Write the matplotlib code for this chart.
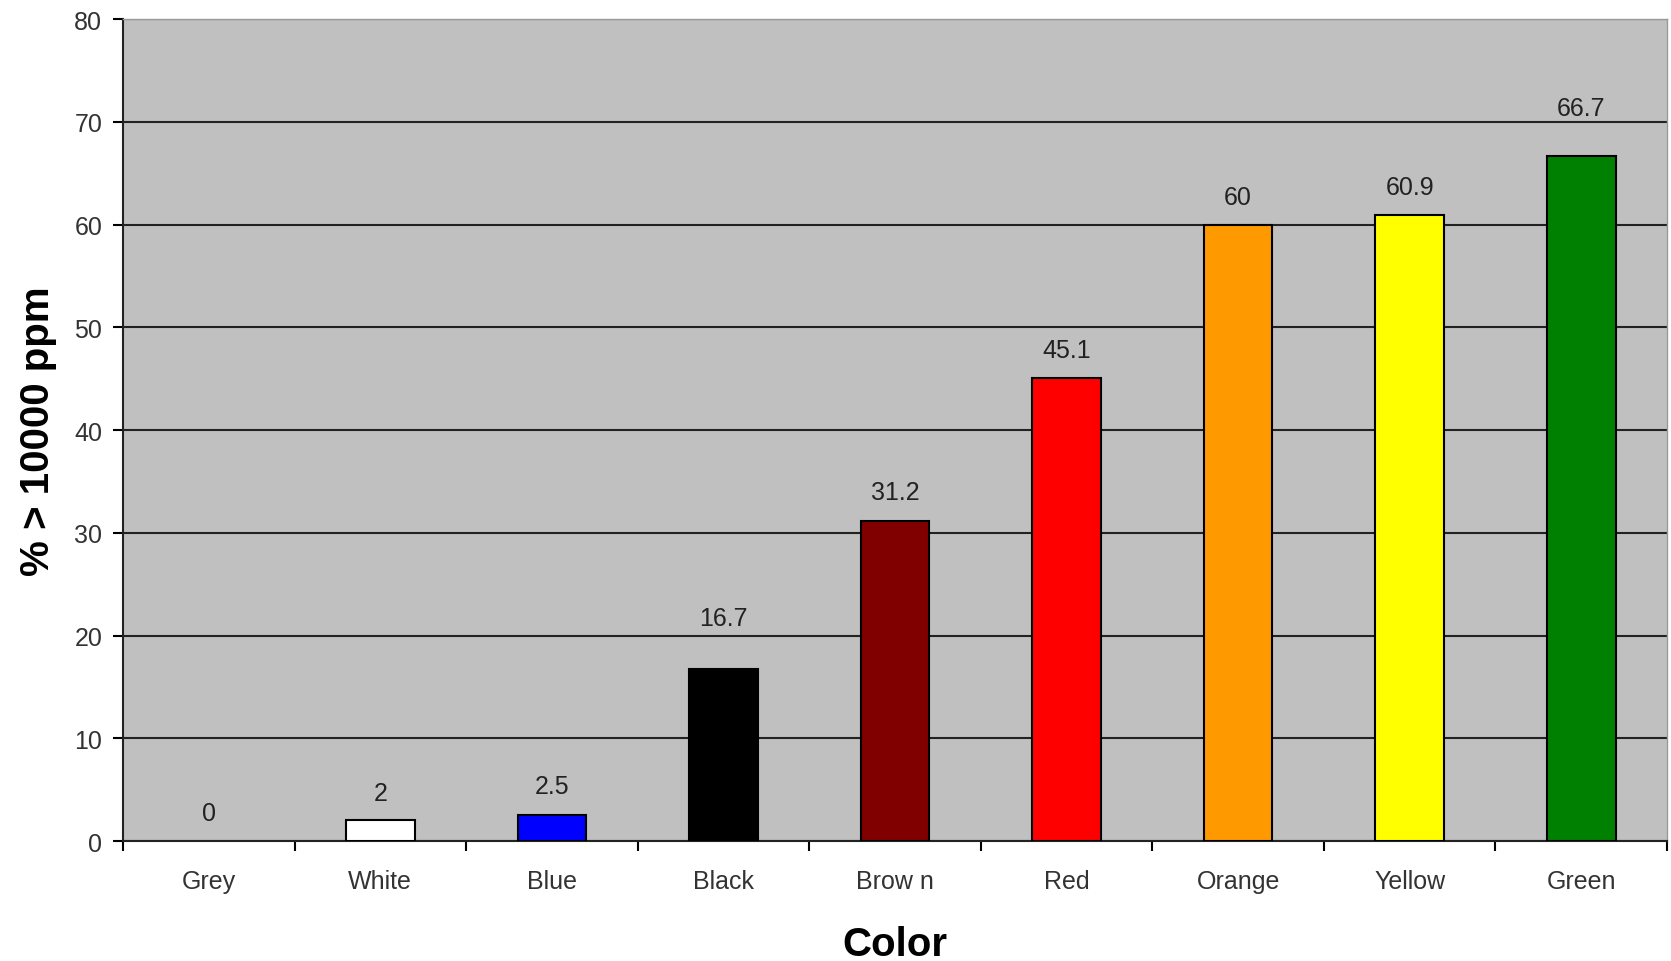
import matplotlib.pyplot as plt

colors = ["Grey", "White", "Blue", "Black", "Brow n", "Red", "Orange", "Yellow", "Green"]
values = [0, 2, 2.5, 16.7, 31.2, 45.1, 60, 60.9, 66.7]
labels = ["0", "2", "2.5", "16.7", "31.2", "45.1", "60", "60.9", "66.7"]
fills = ["#808080", "#FFFFFF", "#0000FF", "#000000", "#800000", "#FF0000", "#FF9900", "#FFFF00", "#008000"]
# label lift above bar (data units); Excel nudged two labels off the gridlines
lift = [2.7, 2.7, 2.9, 5.0, 2.8, 2.7, 2.7, 2.8, 4.7]

plt.rcParams["font.family"] = ["Liberation Sans", "DejaVu Sans"]

fig = plt.figure(figsize=(16.71, 9.62), dpi=100)
ax = fig.add_axes([0.0736, 0.1247, 0.9240, 0.8543])
ax.set_facecolor("#C0C0C0")

x = list(range(len(colors)))
lw = [0 if v == 0 else 1.5 for v in values]
ax.bar(x, values, width=0.40, color=fills, edgecolor="black", linewidth=lw, zorder=3)

for xi, v, t, d in zip(x, values, labels, lift):
    ax.text(xi, v + d, t, ha="center", va="center", fontsize=18, color="#222222")

ax.set_xlim(-0.5, len(colors) - 0.5)
ax.set_ylim(0, 80)
ax.set_yticks(range(0, 81, 10))
ax.set_xticks(x)
ax.set_xticklabels(colors)
ax.set_xticks([i - 0.5 for i in range(len(colors) + 1)], minor=True)
ax.tick_params(axis="x", which="major", length=0, pad=20, labelsize=18, labelcolor="#333333")
ax.tick_params(axis="x", which="minor", length=7, width=1.5, direction="out")
ax.tick_params(axis="y", length=7, width=1.5, labelsize=18, labelcolor="#333333", pad=8)

ax.grid(axis="y", color="#222222", linewidth=1.5, zorder=1)
ax.set_axisbelow(True)

for s in ["left", "bottom"]:
    ax.spines[s].set_linewidth(1.5)
    ax.spines[s].set_color("#222222")
for s in ["top", "right"]:
    ax.spines[s].set_color("#999999")
    ax.spines[s].set_linewidth(1)

ax.set_xlabel("Color", fontsize=29, fontweight="bold", labelpad=23)
ax.set_ylabel("% > 10000 ppm", fontsize=29, fontweight="bold", labelpad=12)

fig.savefig("out.png", dpi=100)
